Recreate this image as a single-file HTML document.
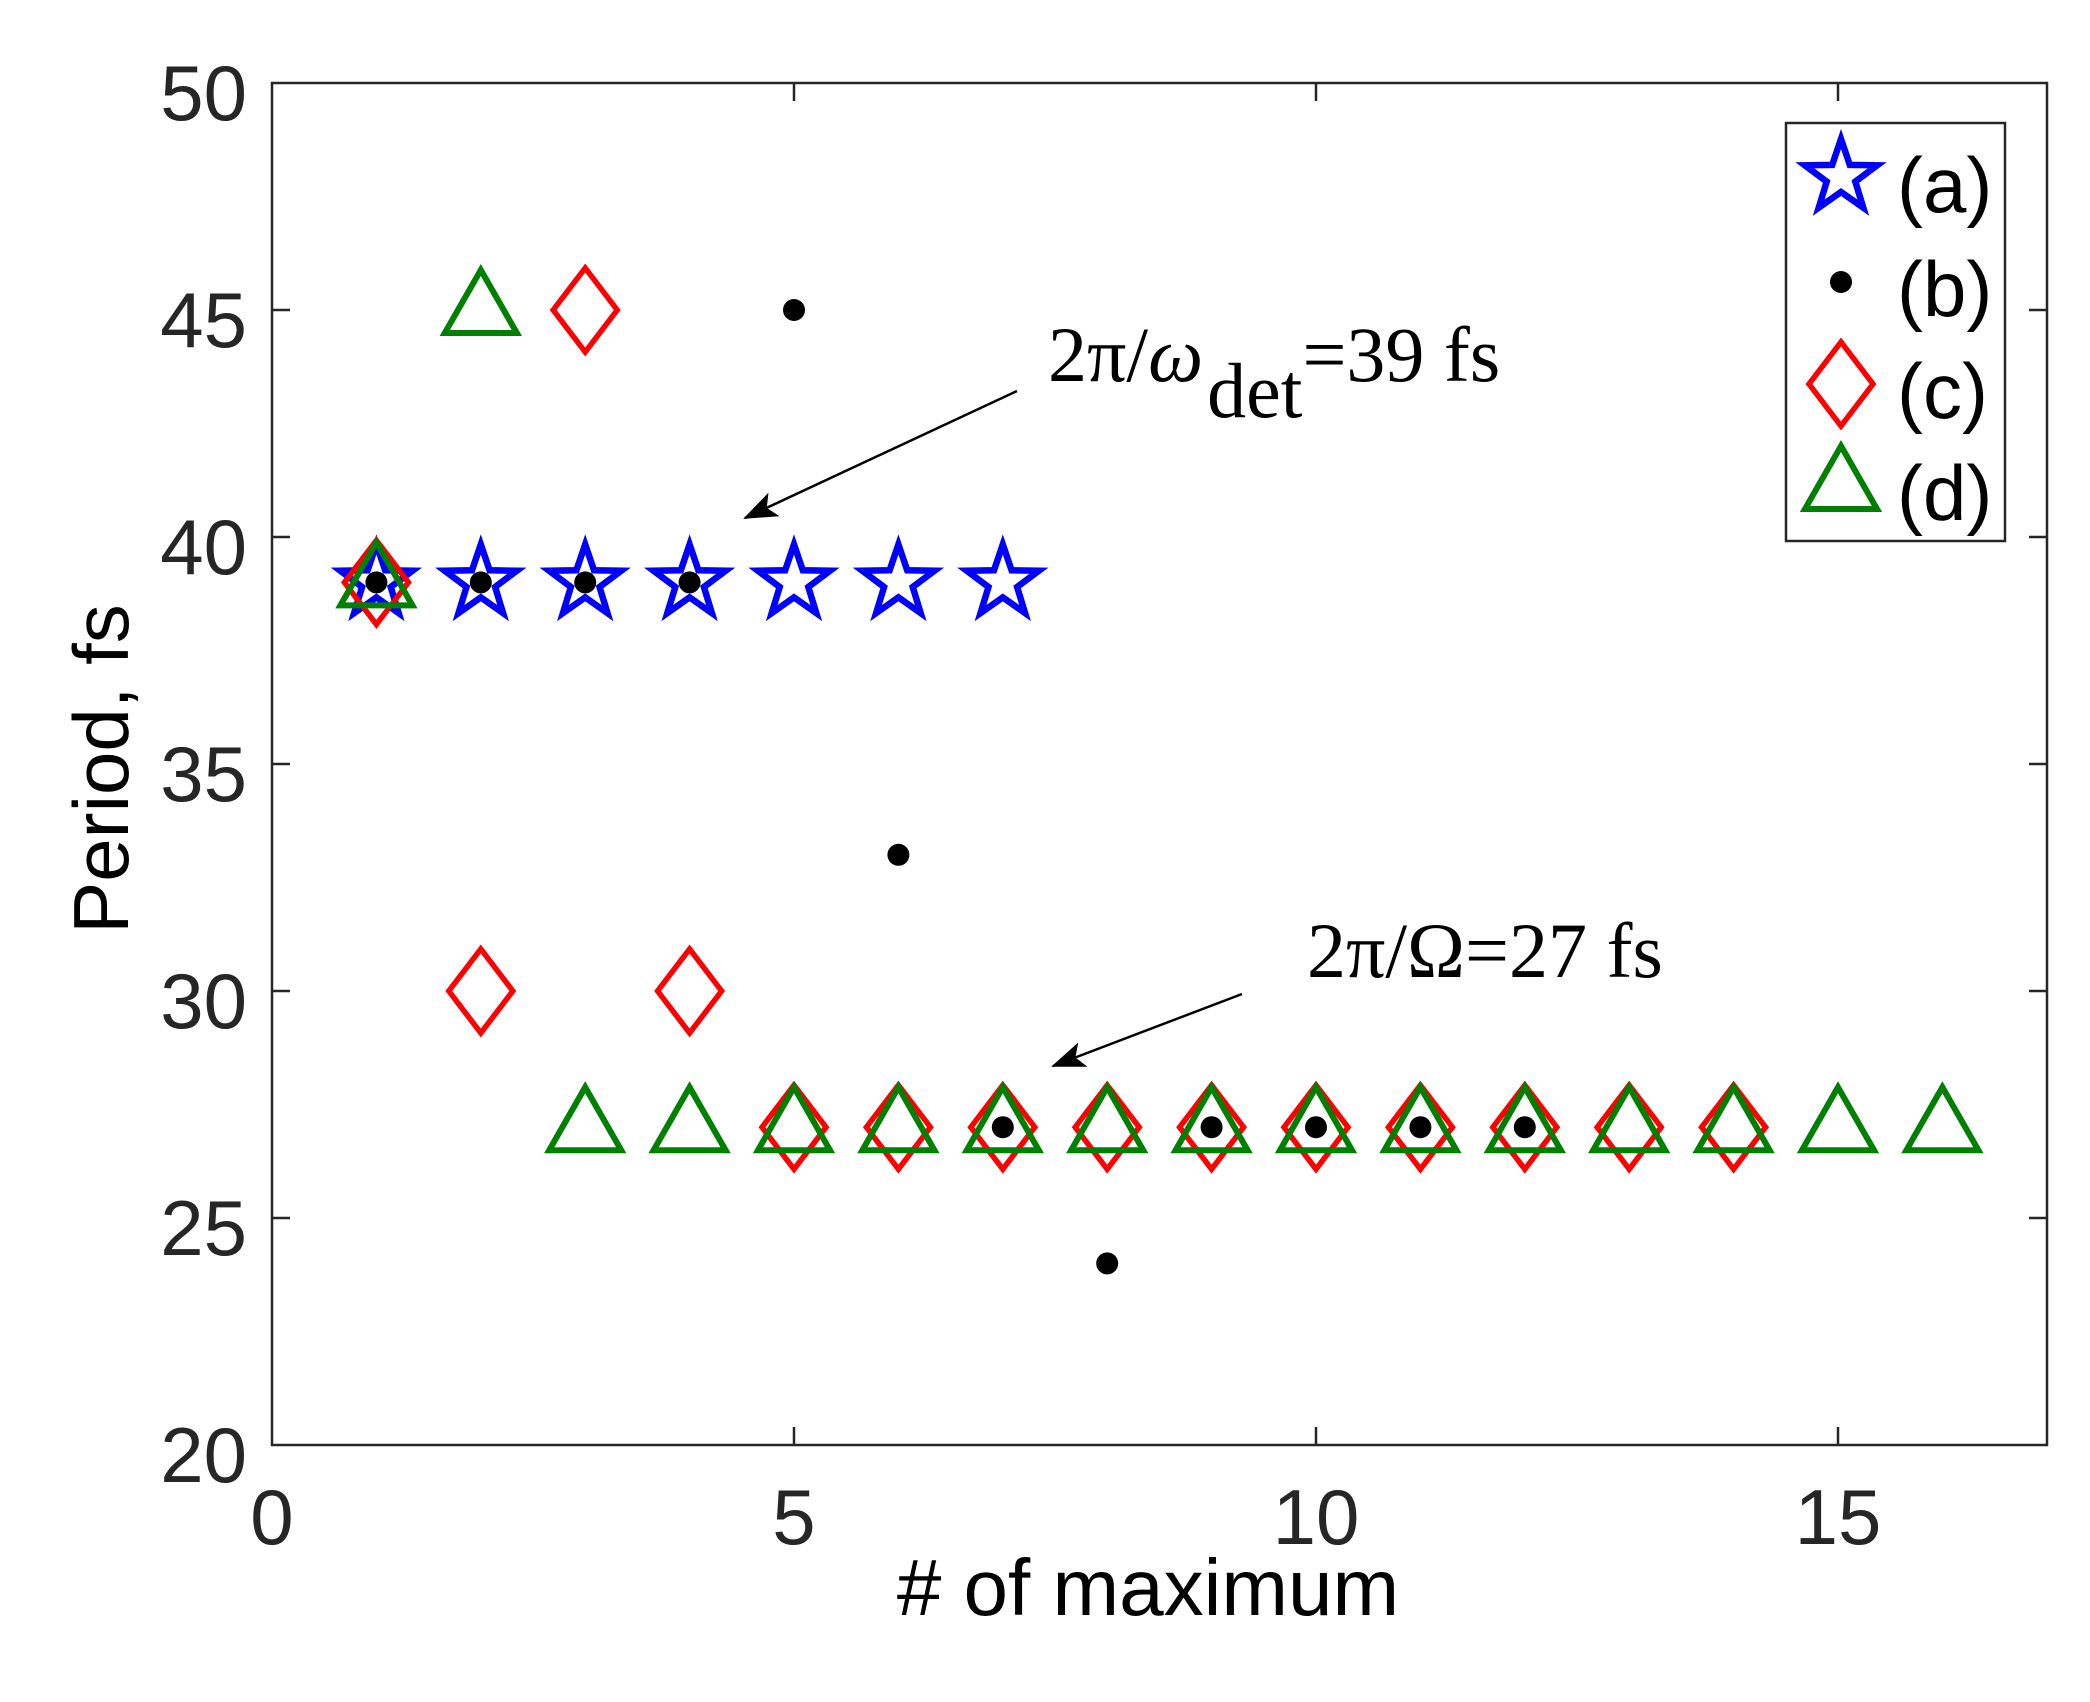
<!DOCTYPE html>
<html><head><meta charset="utf-8"><style>html,body{margin:0;padding:0;background:#fff}svg{display:block}</style></head>
<body>
<svg width="2090" height="1702" viewBox="0 0 2090 1702" xmlns="http://www.w3.org/2000/svg">
<defs>
<polygon id="st" points="0,-38 8.8,-12.1 36.1,-11.7 14.3,4.6 22.3,30.7 0,15 -22.3,30.7 -14.3,4.6 -36.1,-11.7 -8.8,-12.1" fill="none" stroke="#0000ff" stroke-width="6.5" stroke-linejoin="miter"/>
<polygon id="dm" points="0,-42 32,0 0,42 -32,0" fill="none" stroke="#ff0000" stroke-width="5.5"/>
<polygon id="tr" points="0,-40 36,23 -36,23" fill="none" stroke="#008000" stroke-width="6"/>
<circle id="dt" r="11" fill="#000"/>
<marker id="ah" markerWidth="34" markerHeight="26" refX="32" refY="13" orient="auto" markerUnits="userSpaceOnUse" viewBox="0 0 34 26"><path d="M0,0 L34,13 L0,26 L8,13 z" fill="#000"/></marker>
</defs>
<rect x="272" y="83" width="1775" height="1362" fill="#fff" stroke="#262626" stroke-width="2.5"/>
<g stroke="#262626" stroke-width="2.5">
<line x1="794" y1="1445" x2="794" y2="1427"/><line x1="1316" y1="1445" x2="1316" y2="1427"/><line x1="1838" y1="1445" x2="1838" y2="1427"/>
<line x1="794" y1="83" x2="794" y2="101"/><line x1="1316" y1="83" x2="1316" y2="101"/><line x1="1838" y1="83" x2="1838" y2="101"/>
<line x1="272" y1="1218" x2="290" y2="1218"/><line x1="272" y1="991" x2="290" y2="991"/><line x1="272" y1="764" x2="290" y2="764"/><line x1="272" y1="537" x2="290" y2="537"/><line x1="272" y1="310" x2="290" y2="310"/>
<line x1="2047" y1="1218" x2="2029" y2="1218"/><line x1="2047" y1="991" x2="2029" y2="991"/><line x1="2047" y1="764" x2="2029" y2="764"/><line x1="2047" y1="537" x2="2029" y2="537"/><line x1="2047" y1="310" x2="2029" y2="310"/>
</g>
<g font-family="Liberation Sans, sans-serif" font-size="78" fill="#262626" text-anchor="end">
<text x="247" y="1482">20</text><text x="247" y="1255">25</text><text x="247" y="1028">30</text><text x="247" y="801">35</text><text x="247" y="574">40</text><text x="247" y="347">45</text><text x="247" y="120">50</text>
</g>
<g font-family="Liberation Sans, sans-serif" font-size="78" fill="#262626" text-anchor="middle">
<text x="272" y="1544">0</text><text x="794" y="1544">5</text><text x="1316" y="1544">10</text><text x="1838" y="1544">15</text>
</g>
<text x="1148" y="1615" font-family="Liberation Sans, sans-serif" font-size="80" fill="#000" text-anchor="middle">#  of maximum</text>
<text transform="translate(128,769) rotate(-90)" font-family="Liberation Sans, sans-serif" font-size="78" fill="#000" text-anchor="middle">Period, fs</text>

<g>
<use href="#st" x="376.4" y="582.4"/><use href="#st" x="480.8" y="582.4"/><use href="#st" x="585.2" y="582.4"/><use href="#st" x="689.6" y="582.4"/><use href="#st" x="794" y="582.4"/><use href="#st" x="898.4" y="582.4"/><use href="#st" x="1002.8" y="582.4"/>
</g>
<g>
<use href="#dm" x="376.4" y="582.4"/><use href="#dm" x="480.8" y="991"/><use href="#dm" x="585.2" y="310"/><use href="#dm" x="689.6" y="991"/>
<use href="#dm" x="794" y="1127.2"/><use href="#dm" x="898.4" y="1127.2"/><use href="#dm" x="1002.8" y="1127.2"/><use href="#dm" x="1107.2" y="1127.2"/><use href="#dm" x="1211.6" y="1127.2"/><use href="#dm" x="1316" y="1127.2"/><use href="#dm" x="1420.4" y="1127.2"/><use href="#dm" x="1524.8" y="1127.2"/><use href="#dm" x="1629.2" y="1127.2"/><use href="#dm" x="1733.6" y="1127.2"/>
</g>
<g>
<use href="#tr" x="376.4" y="582.4"/><use href="#tr" x="480.8" y="310"/>
<use href="#tr" x="585.2" y="1127.2"/><use href="#tr" x="689.6" y="1127.2"/><use href="#tr" x="794" y="1127.2"/><use href="#tr" x="898.4" y="1127.2"/><use href="#tr" x="1002.8" y="1127.2"/><use href="#tr" x="1107.2" y="1127.2"/><use href="#tr" x="1211.6" y="1127.2"/><use href="#tr" x="1316" y="1127.2"/><use href="#tr" x="1420.4" y="1127.2"/><use href="#tr" x="1524.8" y="1127.2"/><use href="#tr" x="1629.2" y="1127.2"/><use href="#tr" x="1733.6" y="1127.2"/><use href="#tr" x="1838" y="1127.2"/><use href="#tr" x="1942.4" y="1127.2"/>
</g>
<g>
<use href="#dt" x="376.4" y="582.4"/><use href="#dt" x="480.8" y="582.4"/><use href="#dt" x="585.2" y="582.4"/><use href="#dt" x="689.6" y="582.4"/><use href="#dt" x="794" y="310"/><use href="#dt" x="898.4" y="854.8"/><use href="#dt" x="1002.8" y="1127.2"/><use href="#dt" x="1107.2" y="1263.4"/><use href="#dt" x="1211.6" y="1127.2"/><use href="#dt" x="1316" y="1127.2"/><use href="#dt" x="1420.4" y="1127.2"/><use href="#dt" x="1524.8" y="1127.2"/>
</g>

<line x1="1017" y1="391" x2="745" y2="518" stroke="#000" stroke-width="2.5" marker-end="url(#ah)"/>
<line x1="1242" y1="994" x2="1053" y2="1066" stroke="#000" stroke-width="2.5" marker-end="url(#ah)"/>
<g font-family="Liberation Serif, serif" font-size="78" fill="#000">
<text x="1048" y="381">2π/<tspan font-style="italic">ω</tspan><tspan dx="4" dy="36">det</tspan><tspan dy="-36">=39 fs</tspan></text>
<text x="1307" y="977">2π/Ω=27 fs</text>
</g>

<rect x="1786" y="123" width="219" height="418" fill="#fff" stroke="#262626" stroke-width="2.5"/>
<use href="#st" x="1841" y="177"/>
<use href="#dt" x="1841" y="282"/>
<use href="#dm" x="1841" y="384"/>
<use href="#tr" x="1841" y="486"/>
<g font-family="Liberation Sans, sans-serif" font-size="78" fill="#000">
<text x="1897" y="212">(a)</text><text x="1897" y="316">(b)</text><text x="1897" y="418">(c)</text><text x="1897" y="520">(d)</text>
</g>
</svg>
</body></html>
